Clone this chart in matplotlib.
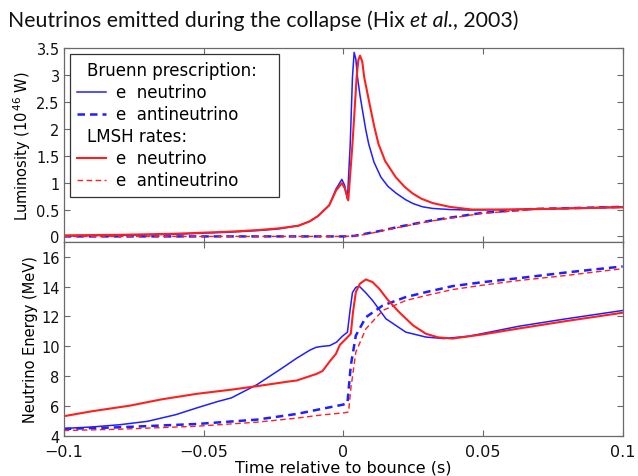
import matplotlib
matplotlib.use('Agg')
import matplotlib.pyplot as plt
from matplotlib.lines import Line2D
from matplotlib.offsetbox import DrawingArea

# luminosity panel (10^46 W)
lum_bruenn_nu_t = [-0.1, -0.08, -0.06, -0.05, -0.04, -0.03, -0.023, -0.016, -0.012, -0.009,
                   -0.005, -0.0026, -0.0005, 0.0005, 0.0015, 0.0025, 0.0033, 0.0039, 0.0045,
                   0.0051, 0.006, 0.0069, 0.008, 0.0091, 0.011, 0.0135, 0.016, 0.019, 0.0224,
                   0.025, 0.0284, 0.032, 0.038, 0.045, 0.06, 0.08, 0.1]
lum_bruenn_nu = [0.01, 0.02, 0.04, 0.06, 0.08, 0.11, 0.14, 0.2, 0.28, 0.38,
                 0.58, 0.88, 1.06, 0.95, 0.69, 1.72, 2.96, 3.42, 3.3,
                 2.96, 2.62, 2.34, 2.0, 1.72, 1.38, 1.1, 0.93, 0.8, 0.68,
                 0.61, 0.55, 0.52, 0.5, 0.49, 0.5, 0.52, 0.55]

lum_bruenn_anu_t = [-0.1, 0.0, 0.004, 0.008, 0.014, 0.02, 0.032, 0.05, 0.068, 0.085, 0.1]
lum_bruenn_anu = [0.0, 0.0, 0.01, 0.05, 0.11, 0.18, 0.3, 0.44, 0.51, 0.53, 0.55]

lum_lmsh_nu_t = [-0.1, -0.08, -0.06, -0.05, -0.04, -0.03, -0.023, -0.016, -0.012, -0.009,
                 -0.005, -0.0026, -0.0005, 0.0005, 0.0018, 0.0033, 0.0048, 0.0054, 0.006,
                 0.0068, 0.0075, 0.0087, 0.0099, 0.0112, 0.0126, 0.015, 0.0188, 0.022, 0.0248,
                 0.028, 0.032, 0.038, 0.046, 0.06, 0.08, 0.1]
lum_lmsh_nu = [0.02, 0.03, 0.05, 0.07, 0.09, 0.12, 0.15, 0.2, 0.28, 0.38,
               0.58, 0.85, 0.99, 0.9, 0.67, 1.72, 2.96, 3.28, 3.36,
               3.25, 2.96, 2.65, 2.34, 2.02, 1.72, 1.4, 1.1, 0.92, 0.8,
               0.7, 0.62, 0.55, 0.5, 0.5, 0.52, 0.54]

lum_lmsh_anu_t = [-0.1, 0.0, 0.005, 0.01, 0.02, 0.032, 0.05, 0.068, 0.085, 0.1]
lum_lmsh_anu = [0.0, 0.0, 0.01, 0.06, 0.17, 0.29, 0.43, 0.5, 0.53, 0.55]

# mean energy panel (MeV)
en_bruenn_nu_t = [-0.1, -0.09, -0.08, -0.07, -0.06, -0.052, -0.045, -0.04, -0.031, -0.0226,
                  -0.0167, -0.0119, -0.0096, -0.0074, -0.0048, -0.0024, -0.0003, 0.0015, 0.0025,
                  0.0033, 0.0045, 0.0057, 0.008, 0.0105, 0.0153, 0.0224, 0.0296, 0.036, 0.045,
                  0.055, 0.063, 0.08, 0.1]
en_bruenn_nu = [4.5, 4.6, 4.75, 4.98, 5.42, 5.9, 6.3, 6.55, 7.42, 8.45,
                9.2, 9.75, 9.94, 10.0, 10.05, 10.28, 10.68, 10.95, 12.5,
                13.6, 13.95, 14.03, 13.6, 13.07, 11.84, 10.95, 10.62, 10.52, 10.68,
                11.05, 11.35, 11.85, 12.4]

en_bruenn_anu_t = [-0.1, -0.08, -0.0524, -0.031, -0.0167, -0.008, 0.0, 0.0015, 0.0027, 0.0045,
                   0.0081, 0.0141, 0.0224, 0.0296, 0.0391, 0.05, 0.063, 0.08, 0.1]
en_bruenn_anu = [4.47, 4.58, 4.8, 5.09, 5.47, 5.8, 6.1, 6.2, 8.71, 10.72,
                 11.95, 12.73, 13.3, 13.63, 14.03, 14.3, 14.57, 14.95, 15.35]

en_lmsh_nu_t = [-0.1, -0.09, -0.0763, -0.065, -0.0524, -0.04, -0.031, -0.0193, -0.0167, -0.0096,
                -0.0074, -0.0048, -0.0026, -0.0012, 0.0004, 0.0027, 0.0035, 0.0045, 0.006,
                0.0081, 0.0105, 0.0129, 0.016, 0.02, 0.025, 0.0296, 0.034, 0.0391, 0.05,
                0.063, 0.08, 0.1]
en_lmsh_nu = [5.32, 5.65, 6.03, 6.45, 6.82, 7.1, 7.33, 7.65, 7.71, 8.15,
              8.35, 9.0, 9.5, 10.1, 10.4, 10.84, 12.3, 13.63, 14.2,
              14.48, 14.3, 13.85, 13.1, 12.29, 11.4, 10.84, 10.6, 10.52, 10.8,
              11.2, 11.7, 12.25]

en_lmsh_anu_t = [-0.1, -0.08, -0.0524, -0.031, -0.0167, -0.008, 0.0004, 0.0019, 0.0027, 0.0045,
                 0.0081, 0.0141, 0.0224, 0.0296, 0.0391, 0.05, 0.063, 0.08, 0.1]
en_lmsh_anu = [4.36, 4.45, 4.65, 4.92, 5.19, 5.4, 5.55, 5.6, 7.15, 9.61,
               11.17, 12.4, 13.07, 13.4, 13.8, 14.1, 14.41, 14.75, 15.2]

x_ticks = [-0.1, -0.05, 0, 0.05, 0.1]
x_ticklabels = ['\u22120.1', '\u22120.05', '0', '0.05', '0.1']
lum_ticks = [0, 0.5, 1, 1.5, 2, 2.5, 3, 3.5]
lum_ticklabels = ['0', '0.5', '1', '1.5', '2', '2.5', '3', '3.5']
en_ticks = [4, 6, 8, 10, 12, 14, 16]

BLUE = '#1f1fff'
RED = '#ff1f1f'
SPINE = '#6a6a6a'

fig = plt.figure(figsize=(6.38, 4.77), dpi=100)
ax1 = fig.add_axes([0.100, 0.491, 0.876, 0.406])
ax2 = fig.add_axes([0.100, 0.084, 0.876, 0.407])

for ax in (ax1, ax2):
    ax.set_xlim(-0.1, 0.1)
    ax.set_xticks(x_ticks)
    ax.tick_params(direction='in', top=True, right=True, length=4, width=0.8,
                   color=SPINE, labelcolor='#111111', pad=3)
    for s in ax.spines.values():
        s.set_color(SPINE)
        s.set_linewidth(0.9)

# top: luminosity
ax1.plot(lum_bruenn_nu_t, lum_bruenn_nu, color=BLUE, lw=1.1, label='e  neutrino')
ax1.plot(lum_bruenn_anu_t, lum_bruenn_anu, color=BLUE, lw=1.8, ls=(0, (3, 2)), label='e  antineutrino')
ax1.plot(lum_lmsh_nu_t, lum_lmsh_nu, color=RED, lw=1.5, label='e  neutrino')
ax1.plot(lum_lmsh_anu_t, lum_lmsh_anu, color=RED, lw=1.0, ls=(0, (4, 2.5)), label='e  antineutrino')
ax1.set_ylim(-0.1, 3.5)
ax1.set_yticks(lum_ticks)
ax1.set_yticklabels(lum_ticklabels, fontsize=10.5)
ax1.set_xticklabels([])
ax1.set_ylabel('Luminosity (10$^{\\,46}$ W)', fontsize=10.5, labelpad=2)

# bottom: mean energy
ax2.plot(en_bruenn_nu_t, en_bruenn_nu, color=BLUE, lw=1.1)
ax2.plot(en_bruenn_anu_t, en_bruenn_anu, color=BLUE, lw=1.8, ls=(0, (3, 2)))
ax2.plot(en_lmsh_nu_t, en_lmsh_nu, color=RED, lw=1.5)
ax2.plot(en_lmsh_anu_t, en_lmsh_anu, color=RED, lw=1.0, ls=(0, (4, 2.5)))
ax2.set_ylim(4, 17)
ax2.set_yticks(en_ticks)
ax2.set_yticklabels([str(v) for v in en_ticks], fontsize=10.5)
ax2.set_xticklabels(x_ticklabels, fontsize=11.5)
ax2.tick_params(axis='x', pad=6)
ax2.set_ylabel('Neutrino Energy (MeV)', fontsize=10.5, labelpad=2)
ax2.set_xlabel('Time relative to bounce (s)', fontsize=11.5, labelpad=0)

# legend with two group headings
lines = ax1.get_lines()
blank = Line2D([], [], color='none')
handles = [blank, lines[0], lines[1], blank, lines[2], lines[3]]
labels = ['Bruenn prescription:', 'e  neutrino', 'e  antineutrino',
          'LMSH rates:', 'e  neutrino', 'e  antineutrino']
leg = ax1.legend(handles, labels, loc='upper left', fontsize=12, fancybox=False,
                 edgecolor='#333333', framealpha=1, borderaxespad=0.35,
                 handlelength=1.75, handletextpad=0.58, labelspacing=0.24,
                 borderpad=0.45)
leg.get_frame().set_linewidth(0.9)
# heading rows: drop the empty handle so the text sits further left,
# and pad the right side of the box a little
rows = leg._legend_handle_box.get_children()[0].get_children()
for i in (0, 3):
    text_area = rows[i].get_children()[1]
    rows[i]._children = [DrawingArea(0, 0), text_area, DrawingArea(4, 0)]

title_y = 0.957
fig.text(0.012, title_y, 'Neutrinos emitted during the collapse (Hix ', fontsize=15.3,
         family='Lato', va='center', ha='left', color='#111111')
fig.canvas.draw()
bb = fig.texts[0].get_window_extent()
fig.text(bb.x1 / fig.bbox.width, title_y, 'et al.', fontsize=15.3, family='Lato',
         style='italic', va='center', ha='left', color='#111111')
fig.canvas.draw()
bb2 = fig.texts[1].get_window_extent()
fig.text(bb2.x1 / fig.bbox.width, title_y, ', 2003)', fontsize=15.3, family='Lato',
         va='center', ha='left', color='#111111')

fig.savefig('out.png', dpi=100)
